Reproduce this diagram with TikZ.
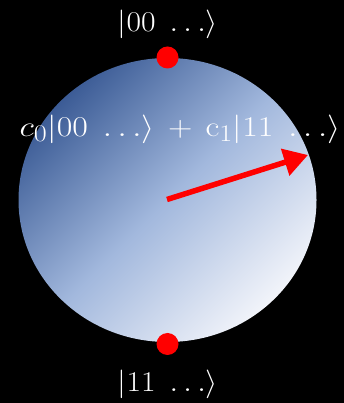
\documentclass[tikz,border=0pt]{standalone}
\usepackage{graphicx}
\usetikzlibrary{arrows.meta}
\definecolor{sphdark}{HTML}{3C5C96}
\definecolor{sphmid}{HTML}{A2B8DD}
\definecolor{sphlight}{HTML}{F2F4FA}
\definecolor{dotred}{HTML}{FF0000}
\newcommand{\bigket}[2][1.27]{\scalebox{#1}[1.15]{\Huge $#2$}}
\begin{document}
\begin{tikzpicture}[x=1pt,y=1pt,
  pole/.style={circle,fill=dotred,minimum size=22pt,inner sep=0pt},
  ket/.style={text=white,inner sep=0pt}]
\fill[black] (0,0) rectangle (344,403);
\useasboundingbox (0,0) rectangle (344,403);
\shade[top color=sphdark,bottom color=sphlight,middle color=sphmid,shading angle=45]
  (167.5,203) ellipse [x radius=149, y radius=142];
\coordinate (c) at (167,203.5);
\coordinate (tip) at (308,248);
\node[pole] (north) at (167.5,345.5) {};
\node[pole] (south) at (167.5,59) {};
\node[ket] (l0) at (168,379) {\bigket{|00\;\ldots\rangle}};
\node[ket] (l1) at (168,19) {\bigket{|11\;\ldots\rangle}};
\node[ket] (sup) at (180,274) {\bigket[1.36]{c_0|00\;\ldots\rangle\mkern3mu+\mkern3mu\mathrm{c}_1|11\;\ldots\rangle}};
\draw[dotred,line width=5.5pt,-{Triangle[length=24pt,width=27pt]}] (c) -- (tip);
\end{tikzpicture}
\end{document}
